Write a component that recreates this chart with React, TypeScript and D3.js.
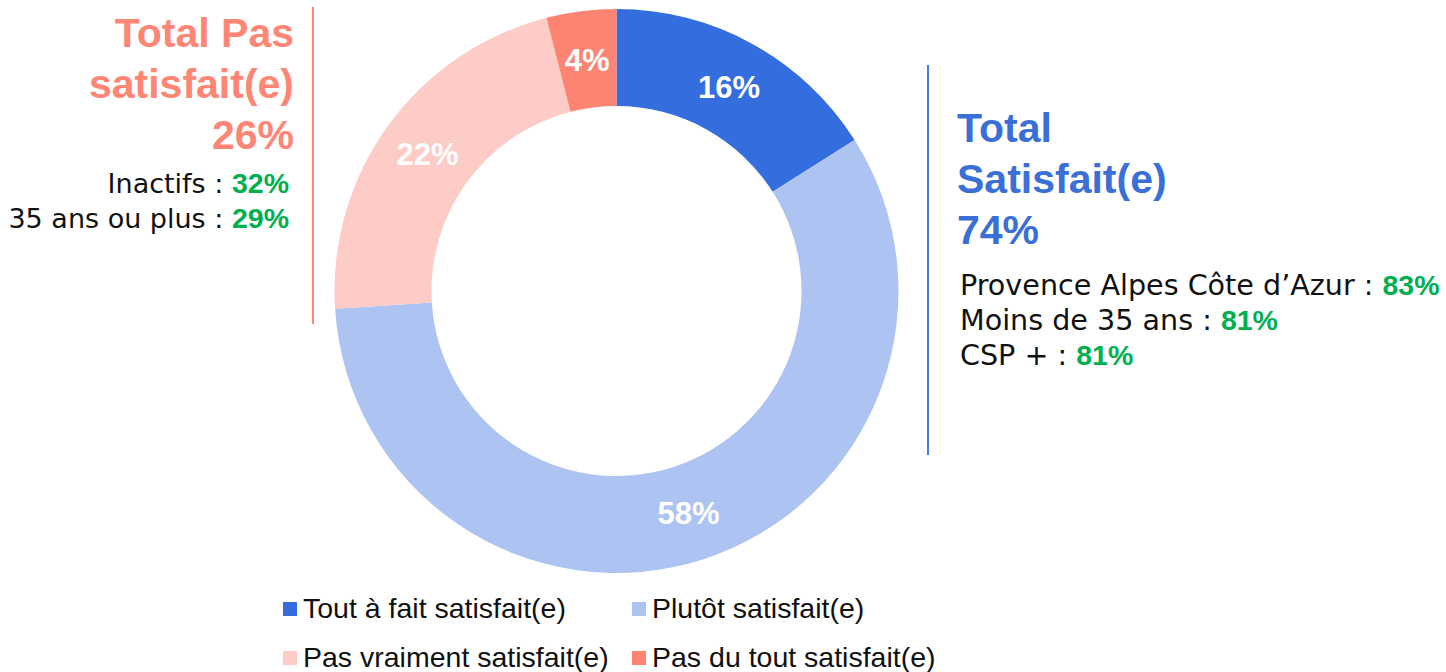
import React from "react";
import * as d3 from "d3";

const categories = [
  "Tout à fait satisfait(e)",
  "Plutôt satisfait(e)",
  "Pas vraiment satisfait(e)",
  "Pas du tout satisfait(e)",
];
const values = [16, 58, 22, 4];
const colors = ["#346DDD", "#ADC4F2", "#FDCCC6", "#FD8473"];

const satisfiedTitle = ["Total", "Satisfait(e)", "74%"];
const satisfiedDetails = [
  { label: "Provence Alpes Côte d’Azur : ", value: "83%" },
  { label: "Moins de 35 ans : ", value: "81%" },
  { label: "CSP + : ", value: "81%" },
];
const unsatisfiedTitle = ["Total Pas", "satisfait(e)", "26%"];
const unsatisfiedDetails = [
  { label: "Inactifs : ", value: "32%" },
  { label: "35 ans ou plus : ", value: "29%" },
];

const W = 1446;
const H = 672;
const cx = 616.5;
const cy = 291;
const outerR = 282;
const innerR = 185;

const boldFont = "'Liberation Sans', Arial, sans-serif";
const regFont = "'DejaVu Sans', sans-serif";
const green = "#00B050";
const blueTitle = "#3A6FD8";
const salmon = "#FF8575";

export default function App() {
  const pie = d3
    .pie<number>()
    .sort(null)
    .value((d) => d)
    .startAngle(0)
    .endAngle(2 * Math.PI);
  const arcs = pie(values);
  const arc = d3.arc<d3.PieArcDatum<number>>().innerRadius(innerR).outerRadius(outerR);

  const legendCols = [283, 632];
  const legendRows = [618, 667];

  return (
    <svg
      width={W}
      height={H}
      style={{ position: "absolute", left: 0, top: 0, display: "block", background: "#fff" }}
    >
      <g transform={`translate(${cx},${cy})`}>
        {arcs.map((a, i) => (
          <path key={i} d={arc(a) || ""} fill={colors[i]} />
        ))}
        {arcs.map((a, i) => {
          const [x, y] = arc.centroid(a);
          return (
            <text
              key={"l" + i}
              x={x}
              y={y}
              dy="0.36em"
              textAnchor="middle"
              fill="#fff"
              fontFamily={boldFont}
              fontWeight="bold"
              fontSize={31}
            >
              {values[i]}%
            </text>
          );
        })}
      </g>

      {/* Left block: not satisfied */}
      <line x1={313} x2={313} y1={7} y2={324} stroke={salmon} strokeWidth={2} />
      {unsatisfiedTitle.map((t, i) => (
        <text
          key={"ut" + i}
          x={294}
          y={47 + i * 51}
          textAnchor="end"
          fill={salmon}
          fontFamily={boldFont}
          fontWeight="bold"
          fontSize={41}
        >
          {t}
        </text>
      ))}
      {unsatisfiedDetails.map((d, i) => (
        <text
          key={"ud" + i}
          x={289}
          y={193 + i * 35}
          textAnchor="end"
          fontFamily={regFont}
          fontSize={27}
          fill="#111"
        >
          <tspan>{d.label}</tspan>
          <tspan fill={green} fontFamily={boldFont} fontWeight="bold" fontSize={28.5}>
            {d.value}
          </tspan>
        </text>
      ))}

      {/* Right block: satisfied */}
      <line x1={928} x2={928} y1={65} y2={455} stroke="#4B7BE0" strokeWidth={2} />
      {satisfiedTitle.map((t, i) => (
        <text
          key={"st" + i}
          x={957}
          y={142 + i * 51}
          fill={blueTitle}
          fontFamily={boldFont}
          fontWeight="bold"
          fontSize={41}
        >
          {t}
        </text>
      ))}
      {satisfiedDetails.map((d, i) => (
        <text
          key={"sd" + i}
          x={960}
          y={295 + i * 35}
          fontFamily={regFont}
          fontSize={28.6}
          fill="#111"
        >
          <tspan>{d.label}</tspan>
          <tspan fill={green} fontFamily={boldFont} fontWeight="bold" fontSize={28.5}>
            {d.value}
          </tspan>
        </text>
      ))}

      {/* Legend */}
      {categories.map((c, i) => {
        const x = legendCols[i % 2];
        const y = legendRows[Math.floor(i / 2)];
        return (
          <g key={"lg" + i}>
            <rect x={x} y={y - 16} width={14} height={14} fill={colors[i]} />
            <text x={x + 20} y={y} fontFamily={boldFont} fontSize={28.5} fill="#111">
              {c}
            </text>
          </g>
        );
      })}
    </svg>
  );
}
